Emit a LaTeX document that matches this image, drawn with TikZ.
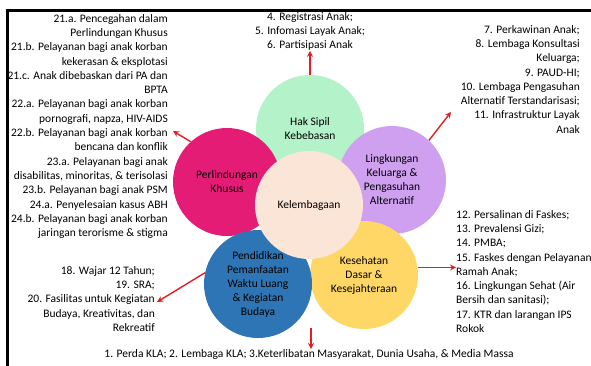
\documentclass[tikz,border=0pt]{standalone}
\usepackage{fontspec}
\setmainfont{Carlito}
\usetikzlibrary{arrows.meta}
\definecolor{sipilgreen}{RGB}{180,242,202}
\definecolor{keluargaviolet}{RGB}{207,160,240}
\definecolor{khususpink}{RGB}{228,28,118}
\definecolor{sehatyellow}{RGB}{254,215,102}
\definecolor{didikblue}{RGB}{46,117,182}
\definecolor{lembagapeach}{RGB}{251,229,214}
\definecolor{arrowred}{RGB}{226,29,36}

\begin{document}
\begin{tikzpicture}[x=1pt, y=-1pt,
    circ/.style={circle, minimum size=108pt, inner sep=0pt, align=center,
                 font=\fontsize{11.5}{14}\selectfont},
    items/.style={inner sep=0pt, font=\fontsize{11.5}{14.3}\selectfont},
    link/.style={-{Stealth[length=6pt, width=6pt]}, line width=1.4pt, arrowred}]
    \useasboundingbox (0,0) rectangle (591,365);

    % Frame
    \draw[line width=3pt] (7,366) -- (7,10) -- (592,10);

    % Outer circles
    \node[circ, fill=sipilgreen] (hak) at (310,129) {Hak Sipil\\Kebebasan};
    \node[circ, fill=keluargaviolet] (keluarga) at (392,180) {Lingkungan\\Keluarga \&\\Pengasuhan\\Alternatif};
    \node[circ, fill=khususpink] (khusus) at (227,182) {Perlindungan\\Khusus};
    \node[circ, fill=sehatyellow] (kesehatan) at (364,275) {Kesehatan\\Dasar \&\\Kesejahteraan};
    \node[circ, fill=didikblue] (pendidikan) at (258,284) {Pendidikan\\Pemanfaatan\\Waktu Luang\\\& Kegiatan\\Budaya};

    % Central circle
    \node[circ, fill=lembagapeach] (lembaga) at (309,205) {Kelembagaan};

    % Indicator lists
    \node[items, anchor=north, align=center] (hakitems) at (310,12)
        {4. Registrasi Anak;\\5. Infomasi Layak Anak;\\6. Partisipasi Anak};
    \node[items, anchor=north east, align=right] (keluargaitems) at (580,25)
        {7. Perkawinan Anak;\\8. Lembaga Konsultasi\\Keluarga;\\9. PAUD-HI;\\10. Lembaga Pengasuhan\\Alternatif Terstandarisasi;\\11. Infrastruktur Layak\\Anak};
    \node[items, anchor=north west, align=left] (kesehatanitems) at (456,210)
        {12. Persalinan di Faskes;\\13. Prevalensi Gizi;\\14. PMBA;\\15. Faskes dengan Pelayanan\\Ramah Anak;\\16. Lingkungan Sehat (Air\\Bersih dan sanitasi);\\17. KTR dan larangan IPS\\Rokok};
    \node[items, anchor=north east, align=right] (pendidikanitems) at (155,266)
        {18. Wajar 12 Tahun;\\19. SRA;\\20. Fasilitas untuk Kegiatan\\Budaya, Kreativitas, dan\\Rekreatif};
    \node[items, anchor=north east, align=right] (khususitems) at (168,14)
        {21.a. Pencegahan dalam\\Perlindungan Khusus\\21.b. Pelayanan bagi anak korban\\kekerasan \& eksplotasi\\21.c. Anak dibebaskan dari PA dan\\BPTA\\22.a. Pelayanan bagi anak korban\\pornografi, napza, HIV-AIDS\\22.b. Pelayanan bagi anak korban\\bencana dan konflik\\23.a. Pelayanan bagi anak\\disabilitas, minoritas, \& terisolasi\\23.b. Pelayanan bagi anak PSM\\24.a. Penyelesaian kasus ABH\\24.b. Pelayanan bagi anak korban\\jaringan terorisme \& stigma};
    \node[items, anchor=north] (lembagaitems) at (309,349)
        {1. Perda KLA; 2. Lembaga KLA; 3.Keterlibatan Masyarakat, Dunia Usaha, \& Media Massa};

    % Arrow ends
    \coordinate (keluargatip) at (451,112);
    \coordinate (kesehatantip) at (456,272);
    \coordinate (pendidikantip) at (157,302);
    \coordinate (khusustip) at (173,131);
    \coordinate (lembagafoot) at (311,328);

    % Arrows
    \draw[link] (hak.north) -- (hakitems.south);
    \draw[link] (keluarga.47) -- (keluargatip);
    \draw[link] (kesehatan.8) -- (kesehatan.8 -| kesehatantip);
    \draw[link] (pendidikan.168) -- (pendidikantip);
    \draw[link] (khusus.132) -- (khusustip);
    \draw[link] (lembagafoot) -- (lembagaitems.north -| lembagafoot);
\end{tikzpicture}
\end{document}
